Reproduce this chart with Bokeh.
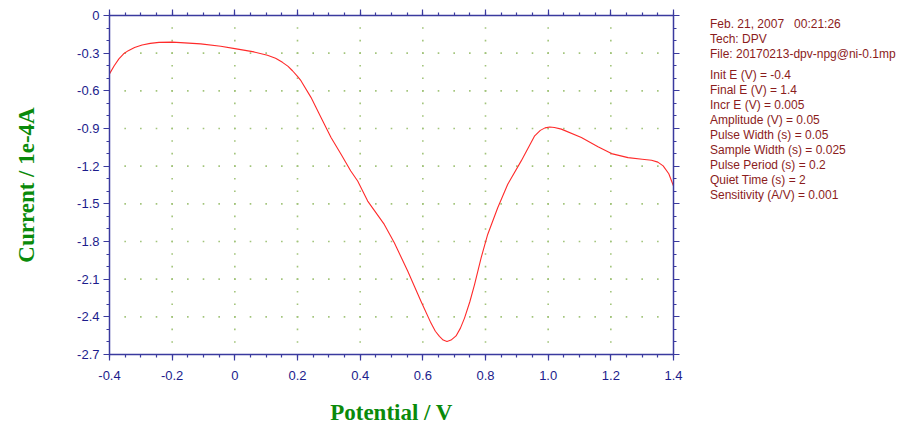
import numpy as np
from bokeh.plotting import figure
from bokeh.layouts import row
from bokeh.models import Range1d, LinearAxis, FixedTicker, ColumnDataSource, Div
from bokeh.embed import file_html
from bokeh.resources import INLINE

# ---- data ----
potential = [-0.400, -0.385, -0.370, -0.355, -0.340, -0.320, -0.296, -0.270, -0.242, -0.200,
             -0.173, -0.109, -0.045, 0.000, 0.061, 0.104, 0.130, 0.152, 0.170, 0.184,
             0.200, 0.211, 0.243, 0.275, 0.307, 0.339, 0.370, 0.392, 0.424, 0.477,
             0.509, 0.552, 0.594, 0.626, 0.640, 0.653, 0.665, 0.677, 0.690, 0.706,
             0.720, 0.733, 0.750, 0.765, 0.786, 0.807, 0.839, 0.871, 0.914, 0.957,
             0.975, 0.990, 1.005, 1.020, 1.042, 1.106, 1.159, 1.202, 1.255, 1.300,
             1.330, 1.350, 1.367, 1.385, 1.400]
current = [-0.465, -0.400, -0.345, -0.305, -0.280, -0.255, -0.235, -0.222, -0.214, -0.212,
           -0.216, -0.226, -0.245, -0.264, -0.290, -0.317, -0.340, -0.373, -0.405, -0.440,
           -0.485, -0.519, -0.652, -0.812, -0.972, -1.105, -1.238, -1.318, -1.478, -1.664,
           -1.810, -2.037, -2.276, -2.450, -2.515, -2.556, -2.585, -2.596, -2.585, -2.552,
           -2.490, -2.410, -2.280, -2.143, -1.930, -1.744, -1.531, -1.344, -1.158, -0.958,
           -0.915, -0.895, -0.888, -0.892, -0.905, -0.972, -1.046, -1.100, -1.132, -1.145,
           -1.153, -1.168, -1.198, -1.260, -1.358]

x_ticks = [-0.4, -0.2, 0.0, 0.2, 0.4, 0.6, 0.8, 1.0, 1.2, 1.4]
x_tick_labels = ["-0.4", "-0.2", "0", "0.2", "0.4", "0.6", "0.8", "1.0", "1.2", "1.4"]
y_ticks = [0.0, -0.3, -0.6, -0.9, -1.2, -1.5, -1.8, -2.1, -2.4, -2.7]
y_tick_labels = ["0", "-0.3", "-0.6", "-0.9", "-1.2", "-1.5", "-1.8", "-2.1", "-2.4", "-2.7"]

header_lines = ["Feb. 21, 2007   00:21:26", "Tech: DPV", "File: 20170213-dpv-npg@ni-0.1mp"]
param_lines = ["Init E (V) = -0.4", "Final E (V) = 1.4", "Incr E (V) = 0.005",
               "Amplitude (V) = 0.05", "Pulse Width (s) = 0.05", "Sample Width (s) = 0.025",
               "Pulse Period (s) = 0.2", "Quiet Time (s) = 2", "Sensitivity (A/V) = 0.001"]

x_title = "Potential / V"
y_title = "Current / 1e-4A"

# ---- styling / layout ----
W, H = 700, 427
BL, BR, BT, BB = 109, 27, 15, 73
X0, X1 = -0.4, 1.4
Y0, Y1 = -2.7, 0.0
AXIS_COLOR = "#3a3a9e"
TICK_TEXT = "#1c1c8c"
TITLE_GREEN = "#0a8a0a"
INFO_RED = "#8b1c1c"

p = figure(width=W, height=H, x_range=Range1d(X0, X1), y_range=Range1d(Y0, Y1),
           output_backend="svg", toolbar_location=None,
           min_border_left=BL, min_border_right=BR, min_border_top=BT, min_border_bottom=BB)
p.outline_line_color = None
p.grid.visible = False
p.background_fill_color = "white"
p.border_fill_color = "white"

x_minor = [round(X0 + 0.05 * i, 2) for i in range(37)]
y_minor = [round(Y0 + 0.1 * i, 2) for i in range(28)]
xticker = FixedTicker(ticks=x_ticks, minor_ticks=x_minor)
yticker = FixedTicker(ticks=y_ticks, minor_ticks=y_minor)

def style(ax):
    ax.axis_line_color = AXIS_COLOR
    ax.axis_line_width = 1.5
    ax.major_tick_line_color = AXIS_COLOR
    ax.minor_tick_line_color = AXIS_COLOR
    ax.major_tick_line_width = 1.2
    ax.minor_tick_line_width = 1.2
    ax.major_tick_out = 6
    ax.major_tick_in = 0
    ax.minor_tick_out = 3
    ax.minor_tick_in = 0
    ax.major_label_text_color = TICK_TEXT
    ax.major_label_text_font = "Liberation Sans"
    ax.major_label_text_font_size = "13px"
    ax.axis_label_text_font = "Liberation Serif"
    ax.axis_label_text_font_style = "bold"
    ax.axis_label_text_font_size = "23px"
    ax.axis_label_text_color = TITLE_GREEN

xa = p.xaxis[0]
xa.ticker = xticker
xa.major_label_overrides = {t: l for t, l in zip(x_ticks, x_tick_labels)}
style(xa)
xa.major_label_standoff = 10
xa.axis_label = x_title
xa.axis_label_standoff = 17

ya = p.yaxis[0]
ya.ticker = yticker
ya.major_label_overrides = {t: l for t, l in zip(y_ticks, y_tick_labels)}
style(ya)
ya.major_label_standoff = 4
ya.axis_label = y_title
ya.axis_label_standoff = 35

top = LinearAxis(ticker=xticker)
style(top)
top.major_label_overrides = {t: "" for t in x_ticks}
top.major_label_standoff = 0
p.add_layout(top, "above")
right = LinearAxis(ticker=yticker)
style(right)
right.major_label_overrides = {t: "" for t in y_ticks}
right.major_label_standoff = 0
p.add_layout(right, "right")

# dotted grid (drawn as dots at regular positions)
gx, gy = [], []
for xv in x_ticks[1:-1]:
    for yv in y_minor[1:-1]:
        gx.append(xv); gy.append(yv)
for yv in y_ticks[1:-1]:
    for xv in x_minor[1:-1]:
        gx.append(xv); gy.append(yv)
p.scatter(gx, gy, marker="square", size=1.6, fill_color="#a2c47a", line_color=None)

src = ColumnDataSource(dict(x=potential, y=current))
p.line("x", "y", source=src, line_color="#ff2a2a", line_width=1.1, line_join="round")

# info text on the right
style_block = ("font-family:'Liberation Sans',Arial,sans-serif;font-size:12px;"
               "color:%s;line-height:15px;white-space:pre;margin:0;" % INFO_RED)
html = ('<div style="%spadding:17px 0 0 10px;">' % style_block
        + "\n".join(header_lines)
        + '<div style="height:6px"></div>'
        + "\n".join(param_lines)
        + "</div>")
info = Div(text=html, width=200, height=H, margin=0)

layout = row(p, info, spacing=0)
open("out.html", "w").write(file_html(layout, INLINE))
